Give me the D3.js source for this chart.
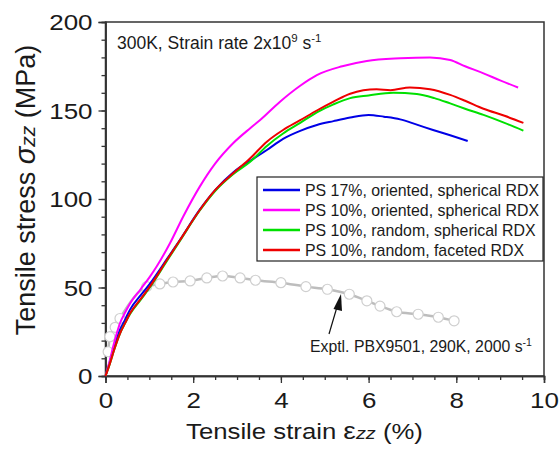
<!DOCTYPE html>
<html><head><meta charset="utf-8">
<script src="https://cdn.jsdelivr.net/npm/d3@7"></script>
<style>
html,body{margin:0;padding:0;background:#fff;}
svg text{font-family:"Liberation Sans",Arial,sans-serif;fill:#1a1a1a;}
</style></head>
<body><svg id="c" width="559" height="449"></svg>
<script>
// ---- data ----
const seriesNames = ["PS 17%, oriented, spherical RDX","PS 10%, oriented, spherical RDX","PS 10%, random, spherical RDX","PS 10%, random, faceted RDX"];
const seriesColors = ["#0000e6","#ff00ff","#00e000","#ee0000"];
const blueX = [0,0.1,0.2,0.33,0.45,0.56,0.8,1.01,1.4,1.7,2.15,2.5,2.91,3.07,3.3,3.68,4.05,4.44,4.82,5.2,5.58,6.0,6.35,6.72,7.1,7.47,7.86,8.26];
const blueY = [0,8,17,26,32,37.5,45.5,52,66,77,94,105,115,118,121.6,127.7,134,138.5,141.8,144,146,147.5,146.5,145,142,139,136,132.8];
const magX = [0,0.1,0.2,0.33,0.45,0.56,0.8,1.01,1.17,1.47,1.77,2.15,2.5,2.91,3.3,3.52,3.98,4.44,4.82,5.4,5.96,6.72,7.4,7.86,8.2,8.62,9.0,9.41];
const magY = [0,9,19,29.8,36,41,49,56,62,75,90,107,120,131.5,140,144.5,155,164,170,175,178,179.5,180,178.5,175,171,167,163];
const greenX = [0,0.1,0.2,0.33,0.45,0.56,0.8,1.01,1.4,1.7,2.15,2.5,2.91,3.3,3.68,4.05,4.44,4.82,5.2,5.58,6.0,6.56,7.1,7.5,7.86,8.2,8.62,9.1,9.53];
const greenY = [0,7,15,24,30,35,43,50,65,76.5,93.5,104.5,114,121,130,137,143,149,153.5,157,158.5,160,159.3,157,154,151,147.5,143,138.6];
const redX = [0,0.1,0.2,0.33,0.45,0.56,0.8,1.01,1.4,1.7,2.15,2.5,2.91,3.3,3.68,4.05,4.44,4.82,5.2,5.58,6.18,6.5,6.94,7.4,7.86,8.2,8.62,9.1,9.53];
const redY = [0,7,15,24,30,35.4,43.5,50.5,65.5,76.8,93.8,105,114.5,123,132.4,139,144.5,150,155,159.5,162,161.5,163,162,158.8,155.5,151,147,143];
const exptX = [0.06,0.10,0.22,0.33,0.94,1.24,1.54,1.93,2.31,2.67,3.07,3.42,4.0,4.57,5.06,5.56,5.96,6.26,6.64,7.13,7.59,7.95];
const exptY = [13.7,22.2,27.5,32.5,50.5,52,53.1,53.7,55.4,56.5,55.4,54.1,52.7,50.5,49,46.2,42.5,39.5,36.3,34.9,33.2,31.2];
const xMajor = [0,2,4,6,8,10];
const yMajor = [0,50,100,150,200];

// ---- layout ----
const svg = d3.select("#c");
const L = 105.5, R = 544, T = 22, B = 376;
const x = d3.scaleLinear().domain([0,10]).range([L,R]);
const y = d3.scaleLinear().domain([0,200]).range([B,T]);

// frame
svg.append("rect").attr("x",L).attr("y",T).attr("width",R-L).attr("height",B-T)
  .attr("fill","none").attr("stroke","#333").attr("stroke-width",1.5);

// axes
const xMinor = d3.range(0,10.01,0.5);
const yMinor = d3.range(0,200.1,10);
const gx = svg.append("g").attr("transform",`translate(0,${B})`);
gx.call(d3.axisBottom(x).tickValues(xMinor).tickSize(4).tickFormat(""));
const gx2 = svg.append("g").attr("transform",`translate(0,${B})`);
gx2.call(d3.axisBottom(x).tickValues(xMajor).tickSize(7).tickPadding(6).tickFormat(d3.format("d")));
const gy = svg.append("g").attr("transform",`translate(${L},0)`);
gy.call(d3.axisLeft(y).tickValues(yMinor).tickSize(4).tickFormat(""));
const gy2 = svg.append("g").attr("transform",`translate(${L},0)`);
gy2.call(d3.axisLeft(y).tickValues(yMajor).tickSize(7).tickPadding(6).tickFormat(d3.format("d")));
svg.selectAll(".domain").attr("stroke","#333").attr("stroke-width",1.5);
svg.selectAll(".tick line").attr("stroke","#333").attr("stroke-width",1.3);
gx2.selectAll("text").attr("font-size",22).attr("dy","0.85em").attr("transform","scale(1.18,1)");
gy2.selectAll("text").attr("font-size",22).attr("dy","0.36em").attr("x",-11).attr("transform","scale(1.18,1)");

// axis titles
const xt = svg.append("text").attr("transform","translate(304.5,439) scale(1.17,1)").attr("text-anchor","middle").attr("font-size",22);
xt.append("tspan").text("Tensile strain ");
xt.append("tspan").text("ε").attr("font-size",24);
xt.append("tspan").text("zz").attr("font-style","italic").attr("font-size",17);
xt.append("tspan").text(" (%)");

const yt = svg.append("text").attr("transform","translate(35,190) rotate(-90)").attr("text-anchor","middle").attr("font-size",27);
yt.append("tspan").text("Tensile stress ");
yt.append("tspan").text("σ").attr("font-style","italic").attr("font-size",29);
yt.append("tspan").text("zz").attr("font-style","italic").attr("font-size",21);
yt.append("tspan").text(" (MPa)");

// experimental curve
const expt = exptX.map((d,i)=>[d,exptY[i]]);
const line = d3.line().x(d=>x(d[0])).y(d=>y(d[1]));
svg.append("path").attr("d",line.curve(d3.curveMonotoneX)(expt)).attr("fill","none")
  .attr("stroke","#bdbdbd").attr("stroke-width",2.5);
svg.selectAll("circle.ex").data(expt).enter().append("circle").attr("class","ex")
  .attr("cx",d=>x(d[0])).attr("cy",d=>y(d[1])).attr("r",5)
  .attr("fill","#fff").attr("stroke","#cfcfcf").attr("stroke-width",1.2);

// simulation curves
const sims = [[blueX,blueY],[magX,magY],[greenX,greenY],[redX,redY]];
const simLine = d3.line().x(d=>x(d[0])).y(d=>y(d[1])).curve(d3.curveMonotoneX);
sims.forEach((s,i)=>{
  const pts = s[0].map((d,j)=>[d,s[1][j]]);
  svg.append("path").attr("d",simLine(pts)).attr("fill","none")
    .attr("stroke",seriesColors[i]).attr("stroke-width",2);
});

// legend
const lg = svg.append("g");
lg.append("rect").attr("x",257).attr("y",177).attr("width",286).attr("height",84)
  .attr("fill","#fff").attr("stroke","#222").attr("stroke-width",1.2);
seriesNames.forEach((n,i)=>{
  const yy = 190 + i*20;
  lg.append("line").attr("x1",263).attr("x2",300).attr("y1",yy).attr("y2",yy)
    .attr("stroke",seriesColors[i]).attr("stroke-width",2.5);
  lg.append("text").attr("x",305).attr("y",yy+6).attr("font-size",15.9).text(n);
});

// top annotation
const ta = svg.append("text").attr("x",117).attr("y",49).attr("font-size",17.5);
ta.append("tspan").text("300K, Strain rate 2x10");
ta.append("tspan").text("9").attr("font-size",11.5).attr("dy",-7);
ta.append("tspan").text(" s").attr("font-size",17.5).attr("dy",7);
ta.append("tspan").text("-1").attr("font-size",11.5).attr("dy",-7);

// experimental annotation
const ea = svg.append("text").attr("x",310).attr("y",352).attr("font-size",15.8);
ea.append("tspan").text("Exptl. PBX9501, 290K, 2000 s");
ea.append("tspan").text("-1").attr("font-size",10.5).attr("dy",-6);

// arrow
svg.append("line").attr("x1",329).attr("y1",334).attr("x2",337).attr("y2",307)
  .attr("stroke","#111").attr("stroke-width",1.2);
svg.append("path").attr("d","M341,294 L333.5,309 L342,311 Z").attr("fill","#111");
</script></body></html>
